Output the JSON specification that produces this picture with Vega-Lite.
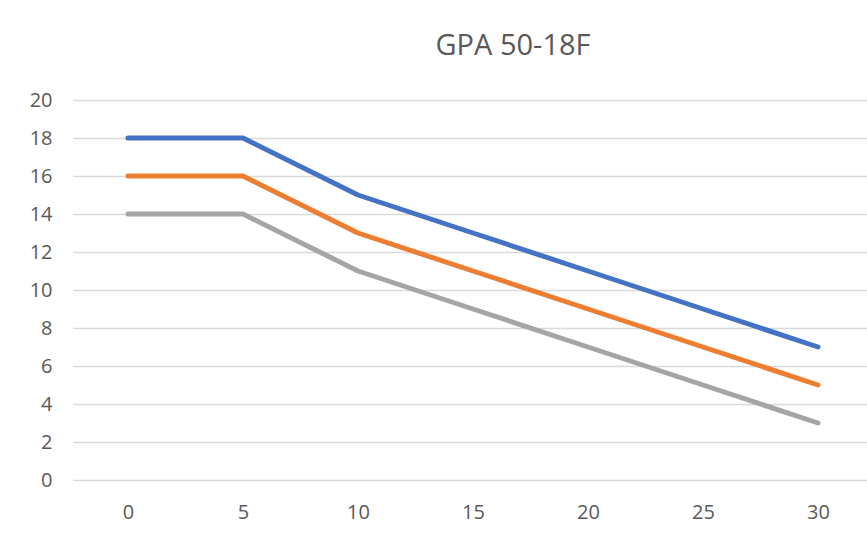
{
  "$schema": "https://vega.github.io/schema/vega-lite/v6.json",
  "autosize": {"type": "none"},
  "padding": {"left": 73, "top": 100, "right": 0, "bottom": 58},
  "width": 794,
  "height": 380,
  "background": "white",
  "title": {
    "text": "GPA 50-18F",
    "font": "Open Sans",
    "fontSize": 29,
    "fontWeight": "normal",
    "color": "#595959",
    "anchor": "middle",
    "dx": 43,
    "offset": 29
  },
  "config": {"view": {"stroke": null}},
  "data": {
    "values": [
      {"x": 0, "y": 18, "s": "A"}, {"x": 5, "y": 18, "s": "A"}, {"x": 10, "y": 15, "s": "A"}, {"x": 15, "y": 13, "s": "A"}, {"x": 20, "y": 11, "s": "A"}, {"x": 25, "y": 9, "s": "A"}, {"x": 30, "y": 7, "s": "A"},
      {"x": 0, "y": 16, "s": "B"}, {"x": 5, "y": 16, "s": "B"}, {"x": 10, "y": 13, "s": "B"}, {"x": 15, "y": 11, "s": "B"}, {"x": 20, "y": 9, "s": "B"}, {"x": 25, "y": 7, "s": "B"}, {"x": 30, "y": 5, "s": "B"},
      {"x": 0, "y": 14, "s": "C"}, {"x": 5, "y": 14, "s": "C"}, {"x": 10, "y": 11, "s": "C"}, {"x": 15, "y": 9, "s": "C"}, {"x": 20, "y": 7, "s": "C"}, {"x": 25, "y": 5, "s": "C"}, {"x": 30, "y": 3, "s": "C"}
    ]
  },
  "mark": {"type": "line", "strokeWidth": 5, "strokeCap": "round", "strokeJoin": "round"},
  "encoding": {
    "x": {
      "field": "x", "type": "quantitative",
      "scale": {"domain": [-2.39, 32.13], "nice": false, "zero": false},
      "axis": {"values": [0, 5, 10, 15, 20, 25, 30], "title": null, "grid": false, "domain": false, "ticks": false, "labelPadding": 22, "labelFont": "Open Sans", "labelFontSize": 20, "labelColor": "#595959", "labelFlush": false}
    },
    "y": {
      "field": "y", "type": "quantitative",
      "scale": {"domain": [0, 20], "nice": false},
      "axis": {"values": [0, 2, 4, 6, 8, 10, 12, 14, 16, 18, 20], "title": null, "grid": true, "gridColor": "#D9D9D9", "gridWidth": 1.5, "domain": false, "ticks": false, "labelPadding": 21, "labelFont": "Open Sans", "labelFontSize": 20, "labelColor": "#595959"}
    },
    "color": {
      "field": "s", "type": "nominal",
      "scale": {"domain": ["A", "B", "C"], "range": ["#4472C4", "#ED7D31", "#A5A5A5"]},
      "legend": null
    }
  }
}
